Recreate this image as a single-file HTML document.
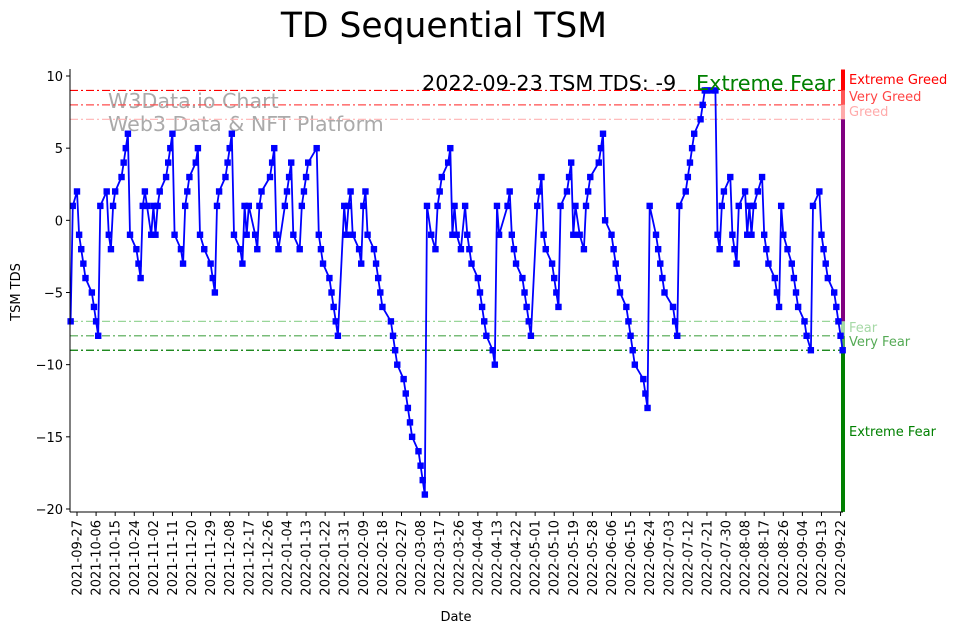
<!DOCTYPE html>
<html><head><meta charset="utf-8">
<style>
html,body{margin:0;padding:0;background:#fff;}
svg{display:block;font-family:"DejaVu Sans","Liberation Sans",sans-serif;}
</style></head>
<body>
<svg id="chart" width="962" height="633" viewBox="0 0 962 633" xmlns="http://www.w3.org/2000/svg">
<rect width="962" height="633" fill="#fff"/>
<text x="444" y="37" font-size="34.5" text-anchor="middle" fill="#000">TD Sequential TSM</text>
<text x="108" y="108" font-size="20.6" fill="#aaaaaa">W3Data.io Chart</text>
<text x="108" y="131" font-size="20.6" fill="#aaaaaa">Web3 Data &amp; NFT Platform</text>
<g id="grid"></g>
<g id="series"></g>
<g id="axes"></g>
<text x="422" y="90" font-size="20.8" fill="#000">2022-09-23 TSM TDS: -9</text>
<text x="696" y="90" font-size="20.8" fill="#008000">Extreme Fear</text>
<text x="20" y="292" font-size="13" text-anchor="middle" transform="rotate(-90 20 292)">TSM TDS</text>
<text x="456" y="621" font-size="13" text-anchor="middle">Date</text>
</svg>
<script>
const baseDate = '2021-09-26';
const dayOffsets = [-2,-1,1,2,3,4,5,8,9,10,11,12,15,16,17,18,19,22,23,24,25,26,29,30,31,32,33,34,36,37,38,39,40,43,44,45,46,47,50,51,52,53,54,57,58,59,61,64,65,66,67,68,71,72,73,74,75,78,79,80,81,82,85,86,87,88,92,93,94,95,96,99,100,101,102,103,106,107,108,109,110,114,115,116,117,120,121,122,123,124,127,128,129,130,131,134,135,136,137,138,141,142,143,144,145,149,150,151,152,155,156,157,158,159,162,163,164,165,166,168,170,171,172,173,176,177,178,179,180,182,184,185,186,187,190,191,192,193,194,197,198,199,200,204,205,206,207,208,211,212,213,214,215,218,219,220,221,222,225,226,227,228,229,232,233,234,235,236,238,240,241,242,243,247,248,249,250,253,254,255,256,257,260,261,262,263,264,268,269,270,271,274,275,276,277,278,282,283,284,285,288,289,290,291,292,295,296,297,298,300,302,303,304,305,306,309,310,311,312,313,316,317,318,319,320,322,324,325,326,327,330,331,332,333,334,336,338,339,340,341,344,345,347,348,351,352,353,354,355,358,359,360,361,362];
const tdsValues = [-7,1,2,-1,-2,-3,-4,-5,-6,-7,-8,
1,2,-1,-2,1,2,3,4,5,6,
-1,-2,-3,-4,
1,2,1,-1,1,-1,1,2,3,4,5,6,
-1,-2,-3,
1,2,3,4,5,
-1,-2,-3,-4,-5,
1,2,3,4,5,6,
-1,-2,-3,
1,-1,1,
-1,-2,
1,2,3,4,5,
-1,-2,
1,2,3,4,
-1,-2,
1,2,3,4,5,
-1,-2,-3,-4,-5,-6,-7,-8,
1,-1,1,2,
-1,-2,-3,
1,2,
-1,-2,-3,-4,-5,-6,-7,-8,-9,-10,-11,-12,-13,-14,-15,-16,-17,-18,-19,
1,
-1,-2,
1,2,3,4,5,
-1,
1,
-1,-2,
1,
-1,-2,-3,-4,-5,-6,-7,-8,-9,-10,
1,
-1,
1,2,
-1,-2,-3,-4,-5,-6,-7,-8,
1,2,3,
-1,-2,-3,-4,-5,-6,
1,2,3,4,
-1,
1,
-1,-2,
1,2,3,4,5,6,
0,
-1,-2,-3,-4,-5,-6,-7,-8,-9,-10,-11,-12,-13,
1,
-1,-2,-3,-4,-5,-6,-7,-8,
1,2,3,4,5,6,7,8,9,9,9,9,
-1,-2,
1,2,3,
-1,-2,-3,
1,2,
-1,1,-1,1,2,3,
-1,-2,-3,-4,-5,-6,
1,
-1,-2,-3,-4,-5,-6,-7,-8,-9,
1,2,
-1,-2,-3,-4,-5,-6,-7,-8,-9];
const yTicks = [10,5,0,-5,-10,-15,-20];
const levelValues = [9,8,7,-7,-8,-9];
const levelNames = ['Extreme Greed','Very Greed','Greed','Fear','Very Fear','Extreme Fear'];
const tickStartOffset = 1;
const tickStepDays = 9;
const tickCount = 41;

const NS='http://www.w3.org/2000/svg';
const L=70, R=843, T=69, B=512;
function xs(d){return 77+(d-1)*2.121;}
function ys(v){return 76+(10-v)*14.433;}
function mk(tag,attrs,parent){const e=document.createElementNS(NS,tag);for(const k in attrs)e.setAttribute(k,attrs[k]);parent.appendChild(e);return e;}
function dateStr(off){const d=new Date(baseDate+'T00:00:00Z');d.setUTCDate(d.getUTCDate()+off);return d.toISOString().slice(0,10);}

const grid=document.getElementById('grid'), series=document.getElementById('series'), axes=document.getElementById('axes');
const levelColors=['#ff0000','#ff4d4d','#ffb3b3','#99d699','#4da64d','#007a00'];
const levelText=['#ff0000','#ff4444','#ffaaaa','#a6d9a6','#55aa55','#008000'];
const labelY=[79,96,111,327,341,431];
levelValues.forEach((v,i)=>{
  const ln=mk('line',{x1:L,x2:R,y1:ys(v),y2:ys(v),stroke:levelColors[i],'stroke-width':1.2,'stroke-dasharray':'8,3,2,3'},grid);
  
  
  const t=mk('text',{x:849,y:labelY[i]+5,'font-size':13,fill:levelText[i]},axes);
  t.textContent=levelNames[i];
  
  
});
const zones=[[10.45,9,'#ff0000'],[9,8,'#ff5555'],[8,7,'#ffaaaa'],[7,-7,'#800080'],[-7,-8,'#a6d9a6'],[-8,-9,'#55aa55'],[-9,-20.2,'#008000']];
zones.forEach((z,i)=>{
  const r=mk('rect',{x:841,y:ys(z[0]),width:4,height:ys(z[1])-ys(z[0]),fill:z[2]},grid);
  
  
});
let dpath='';
dayOffsets.forEach((d,i)=>{dpath+=(i?'L':'M')+xs(d).toFixed(1)+','+ys(tdsValues[i]).toFixed(1);});
const pl=mk('path',{d:dpath,fill:'none',stroke:'#0000ff','stroke-width':1.8,'stroke-linejoin':'round'},series);


dayOffsets.forEach((d,i)=>{
  const m=mk('rect',{x:xs(d)-3.2,y:ys(tdsValues[i])-3.2,width:6.4,height:6.4,fill:'#0000ff'},series);
  
  
});
const ya=mk('line',{x1:L,x2:L,y1:T,y2:B,stroke:'#000','stroke-width':1},axes);


const xa=mk('line',{x1:L,x2:R,y1:B,y2:B,stroke:'#000','stroke-width':1},axes);


yTicks.forEach(v=>{
  const tk=mk('line',{x1:L-4,x2:L,y1:ys(v),y2:ys(v),stroke:'#000'},axes);
  
  
  const t=mk('text',{x:L-7,y:ys(v)+5,'font-size':13,'text-anchor':'end'},axes);
  t.textContent=String(v).replace('-','\u2212');
  
  
});
for(let k=0;k<tickCount;k++){
  const off=tickStartOffset+k*tickStepDays;
  const x=xs(off);
  const tk=mk('line',{x1:x,x2:x,y1:B,y2:B+4,stroke:'#000'},axes);
  
  
  const t=mk('text',{x:x+4.5,y:B+8,'font-size':13,'text-anchor':'end',transform:`rotate(-90 ${x+4.5} ${B+8})`},axes);
  t.textContent=dateStr(off);
  
  
}
</script>
</body></html>
